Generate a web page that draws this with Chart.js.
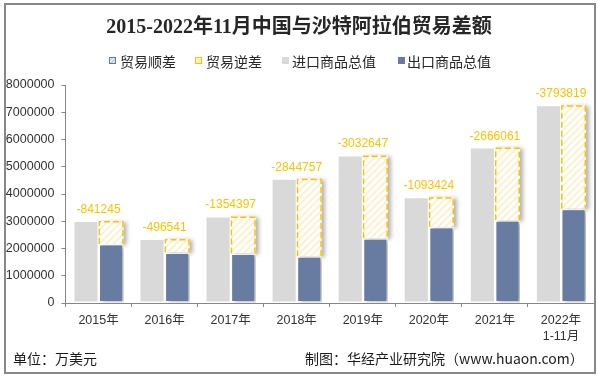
<!DOCTYPE html>
<html>
<head>
<meta charset="utf-8">
<script src="https://cdn.jsdelivr.net/npm/chart.js@4"></script>
<style>
  body { margin: 0; background: #fff; }
  #wrap { position: relative; width: 598px; height: 376px; overflow: hidden; }
  #frame { position: absolute; left: 4px; top: 3px; width: 588px; height: 367px; border: 2px solid #888; }
  canvas { position: absolute; left: 0; top: 0; }
  .txt { position: absolute; white-space: nowrap; font-family: "Noto Sans CJK SC", sans-serif; color: #222; }
  #title { left: 0; width: 598px; top: 13px; text-align: center; font: bold 20px "Liberation Serif", "Noto Sans CJK SC", serif; color: #262626; line-height: 26px; }
  .lg { font-size: 14px; line-height: 18px; top: 52px; color: #262626; }
  .mk { position: absolute; top: 57px; width: 5px; height: 5px; }
  .foot { font-size: 14px; line-height: 18px; top: 349px; color: #1a1a1a; }
</style>
</head>
<body>
<div id="wrap">
  <canvas id="myChart" width="598" height="376"></canvas>
  <div id="frame"></div>
  <div class="txt" id="title">2015-2022年11月中国与沙特阿拉伯贸易差额</div>

  <div class="mk" style="left:109px;border:1px solid #5f7b9a;background:repeating-linear-gradient(135deg,#fff 0 1px,#c9d3de 1px 2.5px);"></div>
  <div class="txt lg" style="left:120px">贸易顺差</div>
  <div class="mk" style="left:195px;border:1px solid #FFC000;background:repeating-linear-gradient(135deg,#fff 0 1px,#fcebb6 1px 2.5px);"></div>
  <div class="txt lg" style="left:206px">贸易逆差</div>
  <div class="mk" style="left:282px;width:7px;height:7px;background:#D9D9D9;"></div>
  <div class="txt lg" style="left:292px">进口商品总值</div>
  <div class="mk" style="left:398px;width:7px;height:7px;background:#687BA1;"></div>
  <div class="txt lg" style="left:407px">出口商品总值</div>

  <div class="txt foot" style="left:13px">单位：万美元</div>
  <div class="txt foot" style="left:305px">制图：华经产业研究院（www.huaon.com）</div>
</div>
<script>
// values in 万美元
const years = ["2015年", "2016年", "2017年", "2018年", "2019年", "2020年", "2021年", ["2022年", "1-11月"]];
const importTotals = [3005000, 2350000, 3175000, 4560000, 5415000, 3885000, 5706000, 7255000];
const exportTotals = [2162000, 1853000, 1821000, 1713000, 2380000, 2792000, 3040000, 3460000];
const balances = [-841245, -496541, -1354397, -2844757, -3032647, -1093424, -2666061, -3793819];
const yMax = 8000000;
const yStep = 1000000;

const makeStripes = (color) => {
  const c = document.createElement("canvas");
  c.width = 7; c.height = 7;
  const g = c.getContext("2d");
  g.fillStyle = "#fff";
  g.fillRect(0, 0, 7, 7);
  g.strokeStyle = color;
  g.lineWidth = 1.6;
  g.beginPath();
  g.moveTo(0, 7); g.lineTo(7, 0);
  g.moveTo(-1, 1); g.lineTo(1, -1);
  g.moveTo(6, 8); g.lineTo(8, 6);
  g.stroke();
  return g.createPattern(c, "repeat");
};

// shadows behind the export / deficit bars, dashed outline on deficit bars, value labels
const barExtras = {
  id: "barExtras",
  beforeDatasetDraw(chart, args) {
    const ctx = chart.ctx;
    ctx.save();
    if (args.index !== 0) {
      ctx.shadowColor = "rgba(0,0,0,0.3)";
      ctx.shadowBlur = 4;
      ctx.shadowOffsetX = 3;
      ctx.shadowOffsetY = 1;
    }
  },
  afterDatasetDraw(chart, args) {
    const ctx = chart.ctx;
    ctx.restore();
    if (args.index !== 2) return;
    ctx.save();
    ctx.strokeStyle = "#FFC000";
    ctx.lineWidth = 1.5;
    ctx.setLineDash([6, 3]);
    args.meta.data.forEach((bar) => {
      const left = bar.x - bar.width / 2 + 0.75;
      const right = bar.x + bar.width / 2 - 0.75;
      const top = Math.min(bar.y, bar.base) + 0.75;
      const bottom = Math.max(bar.y, bar.base);
      ctx.beginPath();
      ctx.moveTo(left, bottom);
      ctx.lineTo(left, top);
      ctx.lineTo(right, top);
      ctx.lineTo(right, bottom);
      ctx.stroke();
    });
    ctx.restore();
  },
  afterDatasetsDraw(chart) {
    const ctx = chart.ctx;
    const xs = chart.scales.x;
    const ys = chart.scales.y;
    ctx.save();
    ctx.fillStyle = "#FFC000";
    ctx.font = "12px 'Liberation Sans', Arial, sans-serif";
    ctx.textAlign = "center";
    ctx.textBaseline = "alphabetic";
    balances.forEach((v, i) => {
      ctx.fillText(String(v), xs.getPixelForValue(i), ys.getPixelForValue(importTotals[i]) - 8);
    });
    ctx.restore();
  }
};

const initChart = (target) => {
  const data = {
    labels: years,
    datasets: [
      {
        label: "进口商品总值",
        data: importTotals,
        stack: "imp",
        backgroundColor: "#D9D9D9",
        borderColor: "#fff",
        borderWidth: 1,
        borderSkipped: false
      },
      {
        label: "出口商品总值",
        data: exportTotals,
        stack: "exp",
        backgroundColor: "#687BA1",
        borderColor: "#fff",
        borderWidth: 1.5,
        borderSkipped: false
      },
      {
        label: "贸易逆差",
        data: exportTotals.map((e, i) => [e, importTotals[i]]),
        stack: "exp",
        backgroundColor: makeStripes("#FDEFC6"),
        borderWidth: 0
      }
    ]
  };
  const tickFont = { family: "'Liberation Sans', 'Noto Sans CJK SC', Arial, sans-serif", size: 12.5, lineHeight: 1.3 };
  const config = {
    type: "bar",
    data: data,
    options: {
      responsive: false,
      animation: false,
      devicePixelRatio: 1,
      categoryPercentage: 0.76,
      barPercentage: 1,
      layout: { padding: { top: 85, left: 0, right: 4, bottom: 33 } },
      plugins: {
        legend: { display: false },
        title: { display: false },
        tooltip: { enabled: false }
      },
      scales: {
        x: {
          stacked: true,
          border: { color: "#868686", width: 1 },
          grid: { display: true, drawOnChartArea: false, drawTicks: true, tickLength: 4, color: "#868686", offset: true },
          ticks: { color: "#333", font: tickFont, padding: 5, maxRotation: 0, autoSkip: false },
          afterFit: (scale) => { scale.height = 40; }
        },
        y: {
          stacked: false,
          min: 0,
          max: yMax,
          border: { color: "#868686", width: 1 },
          grid: { display: true, drawOnChartArea: false, drawTicks: true, tickLength: 4, color: "#868686" },
          ticks: { stepSize: yStep, color: "#333", font: tickFont, padding: 7, callback: (v) => String(v) },
          afterFit: (scale) => { scale.width = 65.5; }
        }
      }
    },
    plugins: [barExtras]
  };
  return new Chart(target, config);
};

document.addEventListener("DOMContentLoaded", () => {
  initChart(document.querySelector("#myChart"));
});
</script>
</body>
</html>
